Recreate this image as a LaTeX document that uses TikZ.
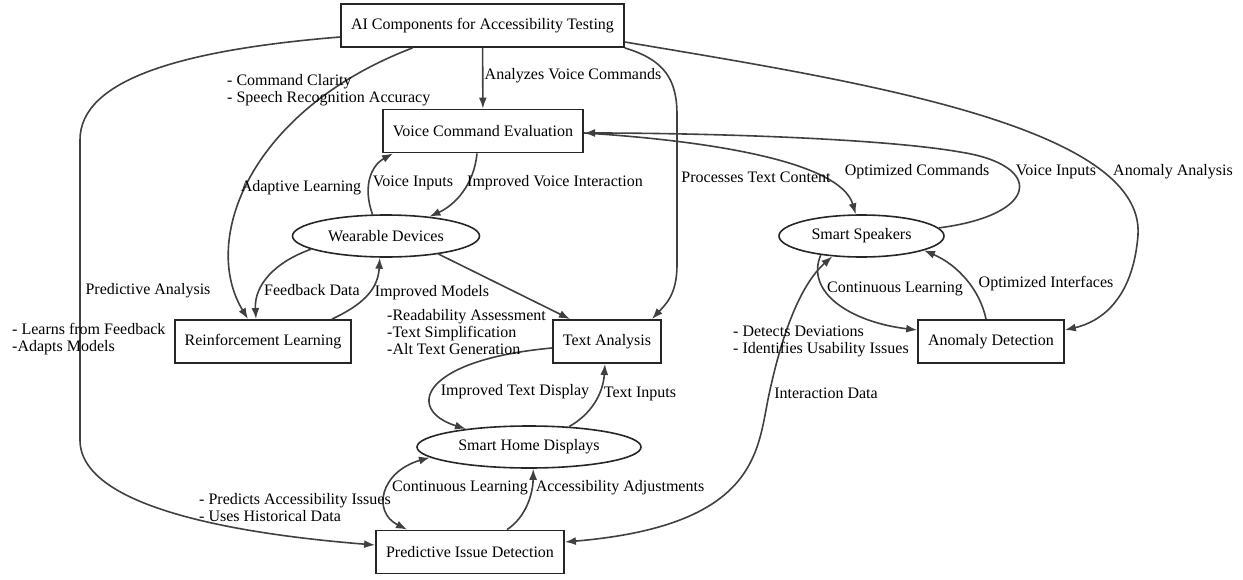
\documentclass[tikz,border=0pt]{standalone}
\usepackage{fontspec}
\setmainfont{Liberation Serif}
\usepackage{tikz}
\usetikzlibrary{positioning,arrows.meta,shapes.geometric}

\begin{document}
\begin{tikzpicture}[
  x=1pt, y=-1pt,
  font=\fontsize{16}{17}\selectfont,
  box/.style={draw=black!85, line width=1.9pt, rectangle, inner xsep=10pt, minimum height=43pt},
  oval/.style={draw=black!85, line width=1.6pt, ellipse, minimum height=42pt, minimum width=#1},
  arrow/.style={-{Latex[length=11pt,width=8pt]}, line width=1.6pt, draw=black!75},
  twoway/.style={{Latex[length=11pt,width=8pt]}-{Latex[length=11pt,width=8pt]}, line width=1.6pt, draw=black!75},
  lbl/.style={inner sep=0pt, align=left}
]
\useasboundingbox (0,0) rectangle (1243,579);

\node[box] (ai) at (482.5,25.5) {AI Components for Accessibility Testing};
\node[box] (vce) at (483,131) {Voice Command Evaluation};
\node[oval=187pt] (wd) at (386,236) {Wearable Devices};
\node[oval=165pt] (ss) at (861.5,236) {Smart Speakers};
\node[box] (rl) at (263,341.5) {Reinforcement Learning};
\node[box] (ta) at (607,341.5) {Text Analysis};
\node[box] (ad) at (991,341.5) {Anomaly Detection};
\node[oval=224pt] (shd) at (529,447) {Smart Home Displays};
\node[box] (pid) at (470,552) {Predictive Issue Detection};

\draw[arrow] (ai) -- (vce);
\draw[arrow] ([xshift=-70pt]ai.south) .. controls (250,110) and (200,240) .. ([xshift=-15pt]rl.north);
\draw[arrow] ([yshift=-11.5pt]ai.west) .. controls (180,50) and (80,80) .. (80,140) -- (80,440)
  .. controls (80,510) and (250,535) .. ([yshift=7pt]pid.west);
\draw[arrow] (ai.south east) .. controls (665,60) and (677,80) .. (677,115) -- (677,265)
  .. controls (677,295) and (665,305) .. ([xshift=45pt]ta.north);
\draw[arrow] ([yshift=-16.5pt]ai.east) .. controls (850,80) and (1145,125) .. (1138,235)
  .. controls (1133,300) and (1100,322) .. ([yshift=11.5pt]ad.east);

\draw[arrow] ([xshift=-6pt]vce.south) .. controls (474,185) and (455,205) .. (wd.24);
\draw[arrow] (wd.122) .. controls (362,185) and (372,165) .. ([xshift=-90pt]vce.south);
\draw[arrow] (wd.190) .. controls (275,262) and (254,285) .. ([xshift=-7pt]rl.north);
\draw[arrow] ([xshift=69pt]rl.north) .. controls (362,305) and (378,290) .. (wd.-106);
\draw[arrow] (wd.-19) -- ([xshift=-37pt]ta.north);

\draw[arrow] ([yshift=-6.5pt]ta.west) .. controls (420,360) and (405,410) .. (shd.164);
\draw[arrow] (shd.27) .. controls (590,415) and (603,395) .. ([xshift=-2pt]ta.south);
\draw[twoway] (shd.186) .. controls (380,472) and (372,512) .. ([xshift=-63pt]pid.north);
\draw[arrow] ([xshift=37pt]pid.north) .. controls (525,518) and (533,495) .. (shd.-79);
\draw[twoway] ([yshift=10pt]pid.east) .. controls (765,525) and (757,445) .. (770,390)
  .. controls (782,335) and (800,285) .. (ss.-145);

\draw[arrow] ([yshift=-2pt]vce.east) .. controls (700,140) and (840,160) .. (ss.105);
\draw[arrow] (ss.6) .. controls (1040,215) and (1045,165) .. (960,152)
  .. controls (880,138) and (700,133) .. ([yshift=-2pt]vce.east);
\draw[arrow] (ss.-155) .. controls (805,292) and (850,322) .. ([yshift=11.5pt]ad.west);
\draw[arrow] ([xshift=-5pt]ad.north) .. controls (980,290) and (958,265) .. (ss.-13);

\node[lbl] (l-analyzes) at (573,76) {Analyzes Voice Commands};
\node[lbl, anchor=west] (l-clarity) at (227,90) {- Command Clarity\\- Speech Recognition Accuracy};
\node[lbl] (l-adaptive) at (301,188) {Adaptive Learning};
\node[lbl] (l-voicein) at (413,183) {Voice Inputs};
\node[lbl] (l-voiceint) at (555,183) {Improved Voice Interaction};
\node[lbl] (l-processes) at (756,177) {Processes Text Content};
\node[lbl] (l-optcmd) at (917,172) {Optimized Commands};
\node[lbl] (l-voicein2) at (1056,172) {Voice Inputs};
\node[lbl] (l-anomaly) at (1173,172) {Anomaly Analysis};
\node[lbl] (l-predictive) at (148,291) {Predictive Analysis};
\node[lbl] (l-feedback) at (312,290) {Feedback Data};
\node[lbl] (l-models) at (432,293) {Improved Models};
\node[lbl, anchor=west] (l-readability) at (387,332) {-Readability Assessment\\-Text Simplification\\-Alt Text Generation};
\node[lbl, anchor=west] (l-learns) at (12,339.5) {- Learns from Feedback\\-Adapts Models};
\node[lbl, anchor=west] (l-detects) at (733,341) {- Detects Deviations\\- Identifies Usability Issues};
\node[lbl] (l-contlearn) at (895,289) {Continuous Learning};
\node[lbl] (l-optint) at (1046,284) {Optimized Interfaces};
\node[lbl] (l-interaction) at (826,393) {Interaction Data};
\node[lbl] (l-textdisplay) at (515,392) {Improved Text Display};
\node[lbl] (l-textin) at (640,394) {Text Inputs};
\node[lbl] (l-contlearn2) at (460,488) {Continuous Learning};
\node[lbl] (l-adjust) at (620,488) {Accessibility Adjustments};
\node[lbl, anchor=west] (l-predicts) at (199,508) {- Predicts Accessibility Issues\\- Uses Historical Data};
\end{tikzpicture}
\end{document}
